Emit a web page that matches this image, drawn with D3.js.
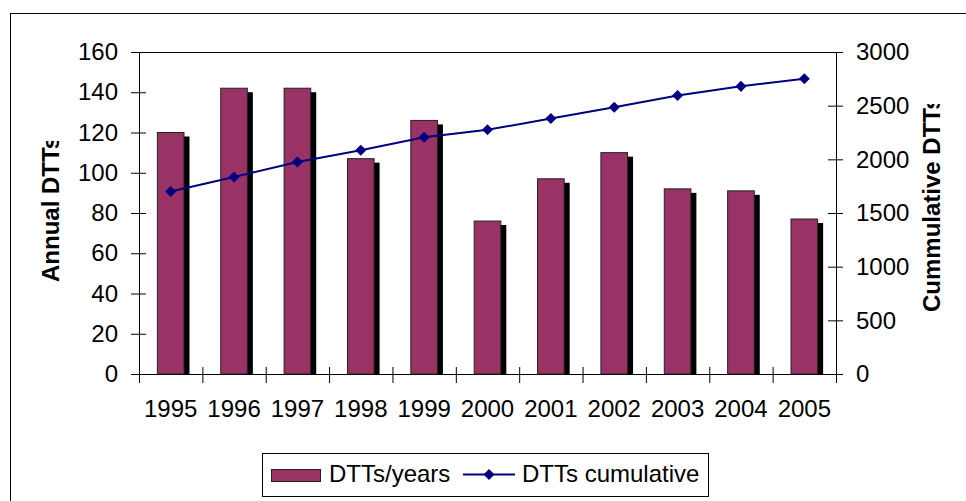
<!DOCTYPE html>
<html>
<head>
<meta charset="utf-8">
<script src="https://cdn.jsdelivr.net/npm/d3@7"></script>
<style>
  html, body { margin: 0; padding: 0; background: #fff; }
  svg { display: block; font-family: "Liberation Sans", Arial, sans-serif; }
</style>
</head>
<body>
<div data-js-graph></div>
<script>
// chart values
const years = ['1995', '1996', '1997', '1998', '1999', '2000', '2001', '2002', '2003', '2004', '2005'];
const annualDtts = [120, 142, 142, 107, 126, 76, 97, 110, 92, 91, 77];
const cumulativeDtts = [1700, 1835, 1975, 2085, 2205, 2275, 2380, 2485, 2595, 2680, 2750];
const leftTicks = [0, 20, 40, 60, 80, 100, 120, 140, 160];
const rightTicks = [0, 500, 1000, 1500, 2000, 2500, 3000];

const SETTING = {
  width: 966,
  height: 501,
  plot: { left: 139, top: 52, right: 836, bottom: 374 },
  barColor: '#993366',
  lineColor: '#000080',
  font: 24,
};

const graphWrapper = d3.select('[data-js-graph]');
const svg = graphWrapper.append('svg')
  .attr('width', SETTING.width)
  .attr('height', SETTING.height);

const { plot } = SETTING;

// outer chart frame (runs off the bottom/right of the picture)
svg.append('rect')
  .attr('x', 10.5).attr('y', 13.5)
  .attr('width', 1000).attr('height', 1000)
  .attr('fill', 'none').attr('stroke', '#000');

// scales
const x = d3.scaleBand().domain(years).range([plot.left, plot.right]).padding(0);
const yLeft = d3.scaleLinear().domain([0, 160]).range([plot.bottom, plot.top]);
const yRight = d3.scaleLinear().domain([0, 3000]).range([plot.bottom, plot.top]);
const barWidth = x.bandwidth() * 0.42;

// plot area border
svg.append('rect')
  .attr('x', plot.left + 0.5).attr('y', plot.top + 0.5)
  .attr('width', plot.right - plot.left).attr('height', plot.bottom - plot.top)
  .attr('fill', 'none').attr('stroke', '#000');

// bar shadows
svg.append('g')
  .selectAll('rect')
  .data(annualDtts)
  .enter()
  .append('rect')
  .attr('x', (d, i) => x(years[i]) + (x.bandwidth() - barWidth) / 2 + 5.5)
  .attr('y', (d) => yLeft(d) + 4)
  .attr('width', barWidth)
  .attr('height', (d) => plot.bottom - yLeft(d) - 4)
  .attr('fill', '#000');

// bars
svg.append('g')
  .selectAll('rect')
  .data(annualDtts)
  .enter()
  .append('rect')
  .attr('x', (d, i) => x(years[i]) + (x.bandwidth() - barWidth) / 2)
  .attr('y', (d) => yLeft(d))
  .attr('width', barWidth)
  .attr('height', (d) => plot.bottom - yLeft(d))
  .attr('fill', SETTING.barColor)
  .attr('stroke', '#222')
  .attr('stroke-width', 1);

// axes
const styleAxis = (g) => {
  g.attr('font-family', null).attr('font-size', SETTING.font);
  g.select('.domain').remove();
  g.selectAll('text').attr('fill', '#000');
  g.selectAll('line').attr('stroke', '#000');
};

svg.append('g')
  .attr('transform', `translate(${plot.left},0)`)
  .call(d3.axisLeft(yLeft).tickValues(leftTicks).tickSize(8).tickPadding(13))
  .call(styleAxis)
  .call((g) => g.selectAll('line').attr('x2', -8).attr('x1', 7));

svg.append('g')
  .attr('transform', `translate(${plot.right},0)`)
  .call(d3.axisRight(yRight).tickValues(rightTicks).tickFormat(d3.format('d'))
    .tickSize(7).tickPadding(13))
  .call(styleAxis)
  .call((g) => g.selectAll('line').attr('x1', -8));

// x tick marks sit between the categories
const boundary = d3.scaleLinear().domain([0, years.length]).range([plot.left, plot.right]);
svg.append('g')
  .attr('transform', `translate(0,${plot.bottom})`)
  .call(d3.axisBottom(boundary).tickValues(d3.range(years.length + 1)).tickSize(9).tickFormat(''))
  .call(styleAxis)
  .call((g) => g.selectAll('line').attr('y1', -7));

svg.append('g')
  .attr('transform', `translate(0,${plot.bottom})`)
  .call(d3.axisBottom(x).tickSize(0).tickPadding(26))
  .call(styleAxis)
  .call((g) => g.selectAll('line').remove());

// cumulative line
const line = d3.line()
  .x((d, i) => x(years[i]) + x.bandwidth() / 2)
  .y((d) => yRight(d));

svg.append('path')
  .datum(cumulativeDtts)
  .attr('d', line)
  .attr('fill', 'none')
  .attr('stroke', SETTING.lineColor)
  .attr('stroke-width', 2);

const diamond = d3.symbol().type(d3.symbolDiamond2).size(78);
svg.append('g')
  .selectAll('path')
  .data(cumulativeDtts)
  .enter()
  .append('path')
  .attr('d', diamond)
  .attr('transform', (d, i) => `translate(${x(years[i]) + x.bandwidth() / 2},${yRight(d)})`)
  .attr('fill', SETTING.lineColor);

// axis titles (Excel cut them off at the top)
const defs = svg.append('defs');
defs.append('clipPath').attr('id', 'clip-left')
  .append('rect').attr('x', 0).attr('y', 141).attr('width', 120).attr('height', 360);
defs.append('clipPath').attr('id', 'clip-right')
  .append('rect').attr('x', 880).attr('y', 104).attr('width', 86).attr('height', 397);

svg.append('g')
  .attr('clip-path', 'url(#clip-left)')
  .append('text')
  .attr('transform', 'translate(59,282) rotate(-90)')
  .attr('font-size', 24)
  .attr('font-weight', 'bold')
  .text('Annual DTTs');

svg.append('g')
  .attr('clip-path', 'url(#clip-right)')
  .append('text')
  .attr('transform', 'translate(940,312) rotate(-90)')
  .attr('font-size', 24)
  .attr('font-weight', 'bold')
  .text('Cummulative DTTs');

// legend
const legend = svg.append('g');
legend.append('rect')
  .attr('x', 262.5).attr('y', 453.5)
  .attr('width', 446).attr('height', 43)
  .attr('fill', '#fff').attr('stroke', '#000');
legend.append('rect')
  .attr('x', 271.5).attr('y', 469.5)
  .attr('width', 49).attr('height', 12)
  .attr('fill', SETTING.barColor).attr('stroke', '#222');
legend.append('text')
  .attr('x', 329).attr('y', 482)
  .attr('font-size', SETTING.font)
  .text('DTTs/years');
legend.append('line')
  .attr('x1', 463).attr('x2', 515)
  .attr('y1', 474.5).attr('y2', 474.5)
  .attr('stroke', SETTING.lineColor).attr('stroke-width', 2);
legend.append('path')
  .attr('d', diamond)
  .attr('transform', 'translate(489,474.5)')
  .attr('fill', SETTING.lineColor);
legend.append('text')
  .attr('x', 522).attr('y', 482)
  .attr('font-size', SETTING.font)
  .text('DTTs cumulative');
</script>
</body>
</html>
